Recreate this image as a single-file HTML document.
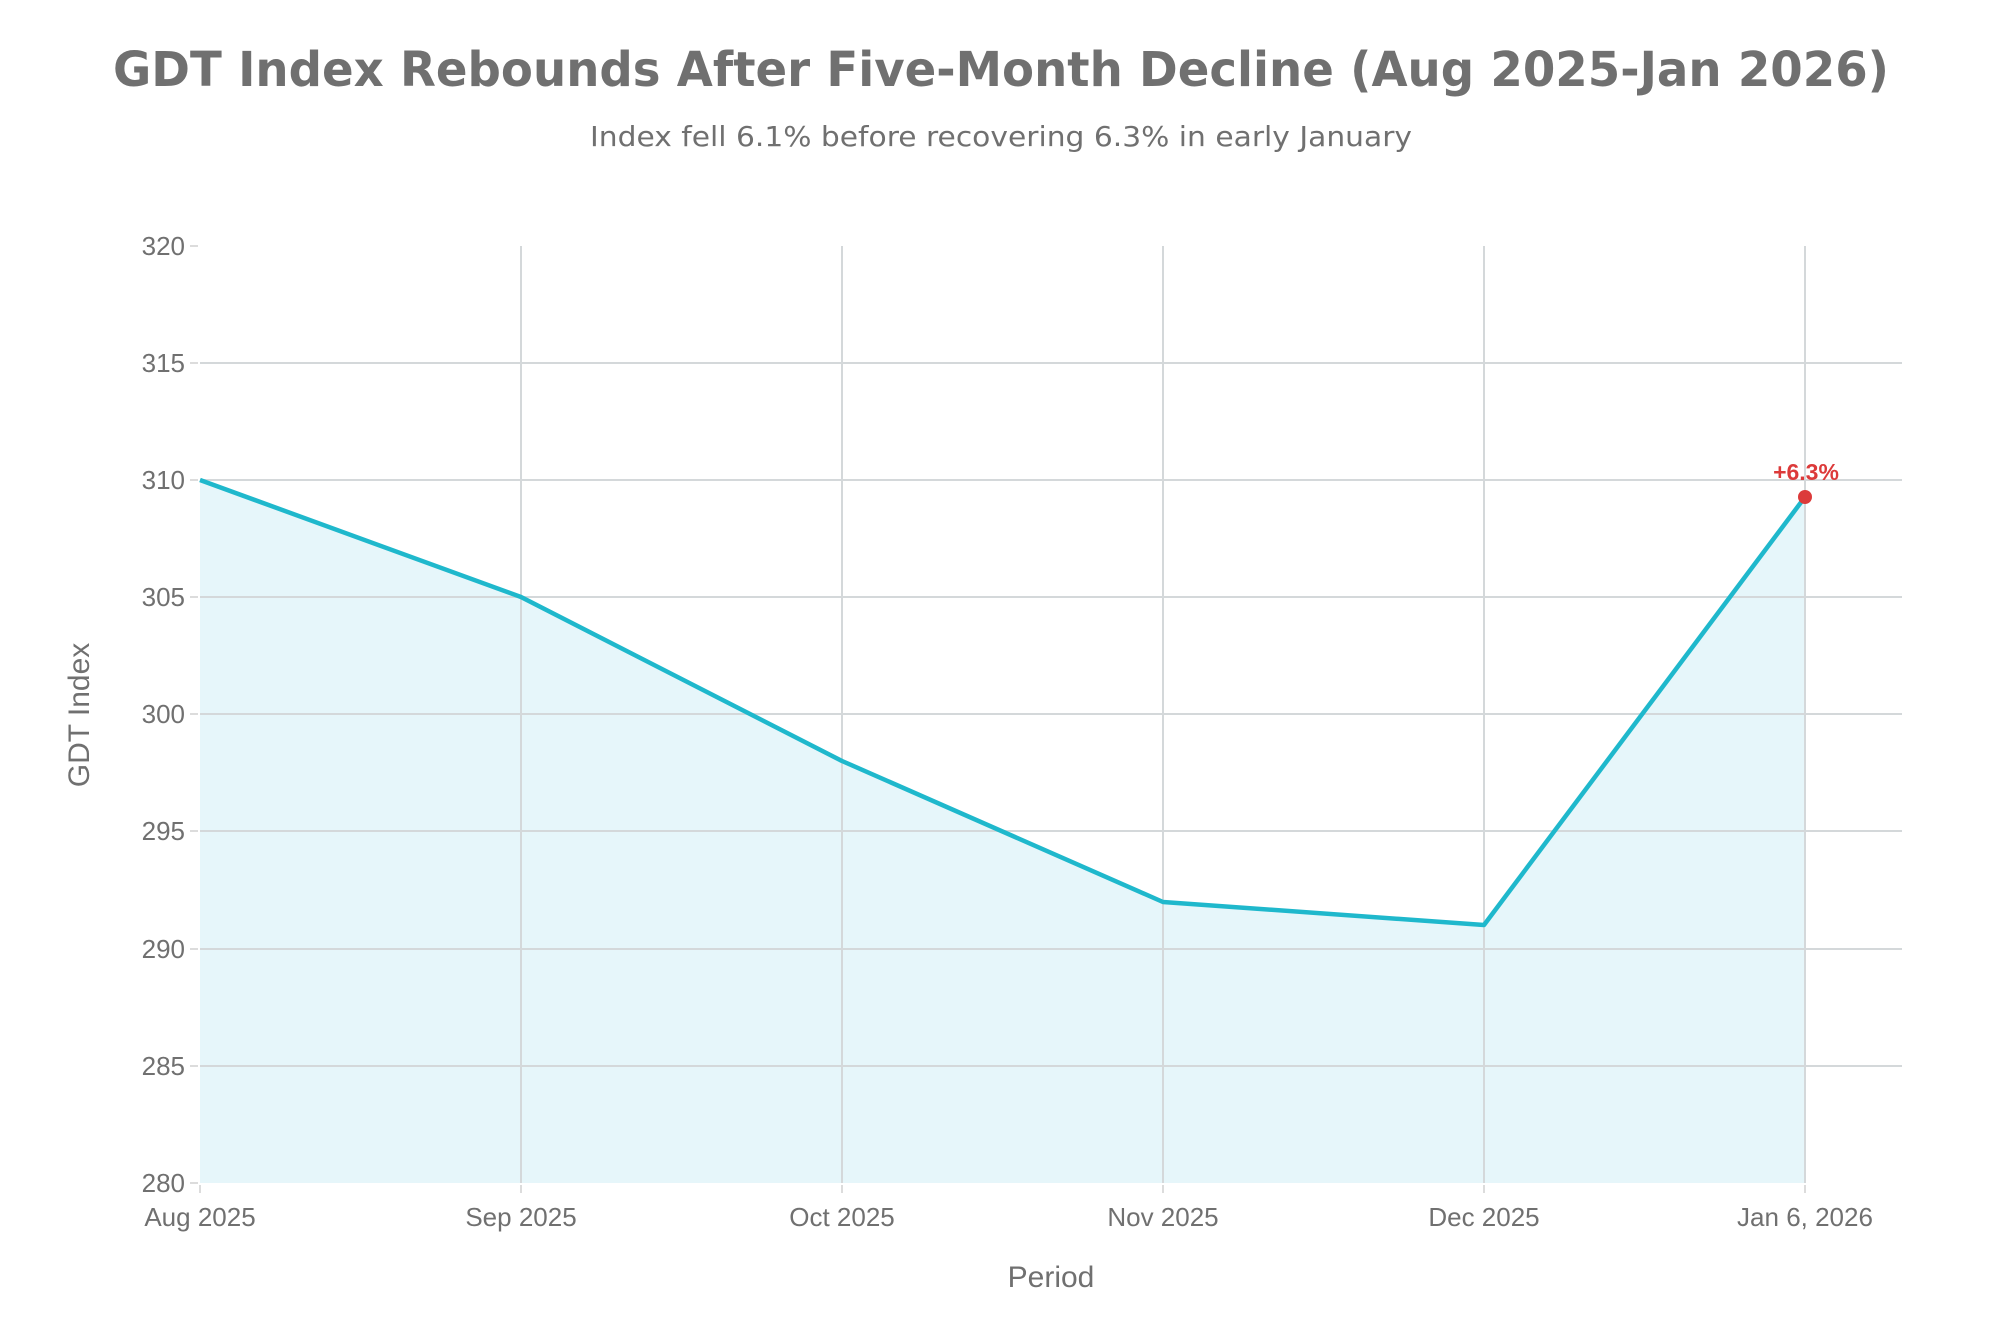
<!DOCTYPE html>
<html><head><meta charset="utf-8"><style>html,body{margin:0;padding:0;background:#fff;}svg{display:block}</style></head>
<body>
<svg width="2000" height="1333" xmlns="http://www.w3.org/2000/svg">
<rect width="2000" height="1333" fill="#fff"/>
<text x="1001" y="86" text-anchor="middle" font-family="DejaVu Sans, sans-serif" font-weight="bold" font-size="48" fill="#707070" textLength="1776" lengthAdjust="spacingAndGlyphs">GDT Index Rebounds After Five-Month Decline (Aug 2025-Jan 2026)</text>
<text x="1001" y="146" text-anchor="middle" font-family="DejaVu Sans, sans-serif" font-size="28" fill="#707070" textLength="822" lengthAdjust="spacingAndGlyphs">Index fell 6.1% before recovering 6.3% in early January</text>
<polygon points="200,480 521,597 842,761 1163,902 1484,925 1805,497 1805,1183 200,1183" fill="#e6f6fa"/>
<g stroke="#d4d8da" stroke-width="2">
<line x1="200" x2="1902" y1="363" y2="363"/>
<line x1="200" x2="1902" y1="480" y2="480"/>
<line x1="200" x2="1902" y1="597" y2="597"/>
<line x1="200" x2="1902" y1="714" y2="714"/>
<line x1="200" x2="1902" y1="831" y2="831"/>
<line x1="200" x2="1902" y1="949" y2="949"/>
<line x1="200" x2="1902" y1="1066" y2="1066"/>
<line x1="521" x2="521" y1="246" y2="1183"/>
<line x1="842" x2="842" y1="246" y2="1183"/>
<line x1="1163" x2="1163" y1="246" y2="1183"/>
<line x1="1484" x2="1484" y1="246" y2="1183"/>
<line x1="1805" x2="1805" y1="246" y2="1183"/>
</g>
<g stroke="#dcdcdc" stroke-width="2">
<line x1="190" x2="198" y1="246" y2="246"/><line x1="190" x2="198" y1="363" y2="363"/><line x1="190" x2="198" y1="480" y2="480"/><line x1="190" x2="198" y1="597" y2="597"/><line x1="190" x2="198" y1="714" y2="714"/><line x1="190" x2="198" y1="831" y2="831"/><line x1="190" x2="198" y1="949" y2="949"/><line x1="190" x2="198" y1="1066" y2="1066"/><line x1="190" x2="198" y1="1183" y2="1183"/>
<line x1="200" x2="200" y1="1185" y2="1193"/><line x1="521" x2="521" y1="1185" y2="1193"/><line x1="842" x2="842" y1="1185" y2="1193"/><line x1="1163" x2="1163" y1="1185" y2="1193"/><line x1="1484" x2="1484" y1="1185" y2="1193"/><line x1="1805" x2="1805" y1="1185" y2="1193"/>
</g>
<polyline points="200,480 521,597 842,761 1163,902 1484,925 1805,497" fill="none" stroke="#1fb8cc" stroke-width="4.5" stroke-linejoin="round"/>
<circle cx="1805" cy="497" r="7" fill="#dc3a3a"/>
<text x="1806" y="480" text-anchor="middle" font-family="Liberation Sans, sans-serif" font-size="23" font-weight="bold" fill="#dc3a3a">+6.3%</text>
<g font-family="Liberation Sans, sans-serif" font-size="26" fill="#707070" text-anchor="end">
<text x="185" y="255">320</text><text x="185" y="372">315</text><text x="185" y="489">310</text><text x="185" y="606">305</text><text x="185" y="723">300</text><text x="185" y="840">295</text><text x="185" y="958">290</text><text x="185" y="1075">285</text><text x="185" y="1192">280</text>
</g>
<g font-family="Liberation Sans, sans-serif" font-size="26" fill="#707070" text-anchor="middle">
<text x="200" y="1226">Aug 2025</text><text x="521" y="1226">Sep 2025</text><text x="842" y="1226">Oct 2025</text><text x="1163" y="1226">Nov 2025</text><text x="1484" y="1226">Dec 2025</text><text x="1805" y="1226">Jan 6, 2026</text>
</g>
<text x="1051" y="1287" text-anchor="middle" font-family="Liberation Sans, sans-serif" font-size="30" fill="#707070">Period</text>
<text transform="translate(89,715) rotate(-90)" text-anchor="middle" font-family="Liberation Sans, sans-serif" font-size="30" fill="#707070">GDT Index</text>
</svg>
</body></html>
